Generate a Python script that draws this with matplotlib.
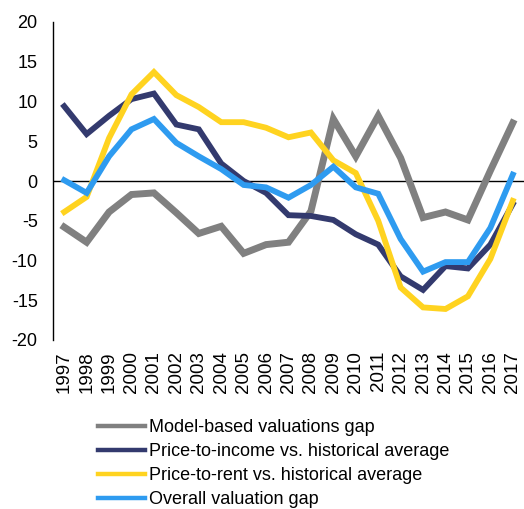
import numpy as np
import matplotlib.pyplot as plt

plt.rcParams['font.family'] = ['Liberation Sans', 'DejaVu Sans']

# =========================
# DATA
# =========================

years = [str(y) for y in range(1997, 2018)]

model_gap = [-5.8, -7.7, -3.9, -1.7, -1.5, -4.0, -6.6, -5.7, -9.1, -8.0,
             -7.7, -3.8, 7.8, 3.1, 8.2, 2.9, -4.6, -3.9, -4.9, 1.3, 7.3]
price_income = [9.4, 5.9, 8.2, 10.3, 11.0, 7.1, 6.5, 2.2, 0.0, -1.5,
                -4.3, -4.4, -4.9, -6.7, -8.0, -12.0, -13.7, -10.7, -11.0, -8.0, -2.9]
price_rent = [-3.9, -2.0, 5.4, 10.9, 13.7, 10.8, 9.3, 7.4, 7.4, 6.7,
              5.5, 6.1, 2.6, 1.0, -5.0, -13.4, -15.9, -16.1, -14.5, -9.8, -2.5]
overall_gap = [0.1, -1.5, 3.1, 6.5, 7.8, 4.8, 3.1, 1.5, -0.5, -0.8,
               -2.1, -0.5, 1.8, -0.8, -1.6, -7.3, -11.4, -10.2, -10.2, -5.9, 0.8]

labels = ["Model-based valuations gap",
          "Price-to-income vs. historical average",
          "Price-to-rent vs. historical average",
          "Overall valuation gap"]
colors = ["#808080", "#333a6e", "#ffd320", "#2e9bf0"]
yticks = [-20, -15, -10, -5, 0, 5, 10, 15, 20]

# =========================
# PLOT
# =========================

fig = plt.figure(figsize=(5.24, 5.09), dpi=100)
ax = fig.add_axes([53 / 524, 1 - 340 / 509, 471 / 524, 318 / 509])

x = np.arange(len(years))
series = [model_gap, price_income, price_rent, overall_gap]
widths = [5.0, 4.2, 4.2, 4.2]
for vals, lab, col, lw in zip(series, labels, colors, widths):
    ax.plot(x, vals, color=col, lw=lw, label=lab, solid_joinstyle='miter')

ax.axhline(0, color='black', lw=1.0, zorder=1)

ax.set_xlim(-0.5, len(years) - 0.5)
ax.set_ylim(-20, 20)
ax.set_yticks(yticks)
ax.set_yticklabels([str(t) for t in yticks], fontsize=13)
ax.set_xticks(x)
ax.set_xticklabels(years, rotation=90, fontsize=13.5)
ax.tick_params(axis='x', length=0, pad=8)
ax.tick_params(axis='y', length=0, pad=11)

for s in ['top', 'right', 'bottom']:
    ax.spines[s].set_visible(False)
ax.spines['left'].set_linewidth(1.0)

leg = fig.legend(loc='upper left', bbox_to_anchor=(98 / 524, 1 - 419 / 509),
                 frameon=False, fontsize=13, handlelength=2.6, handletextpad=0.25,
                 labelspacing=0.39, borderpad=0, borderaxespad=0)
for h in leg.get_lines():
    h.set_linewidth(3.2)

fig.savefig("out.png", dpi=100)
